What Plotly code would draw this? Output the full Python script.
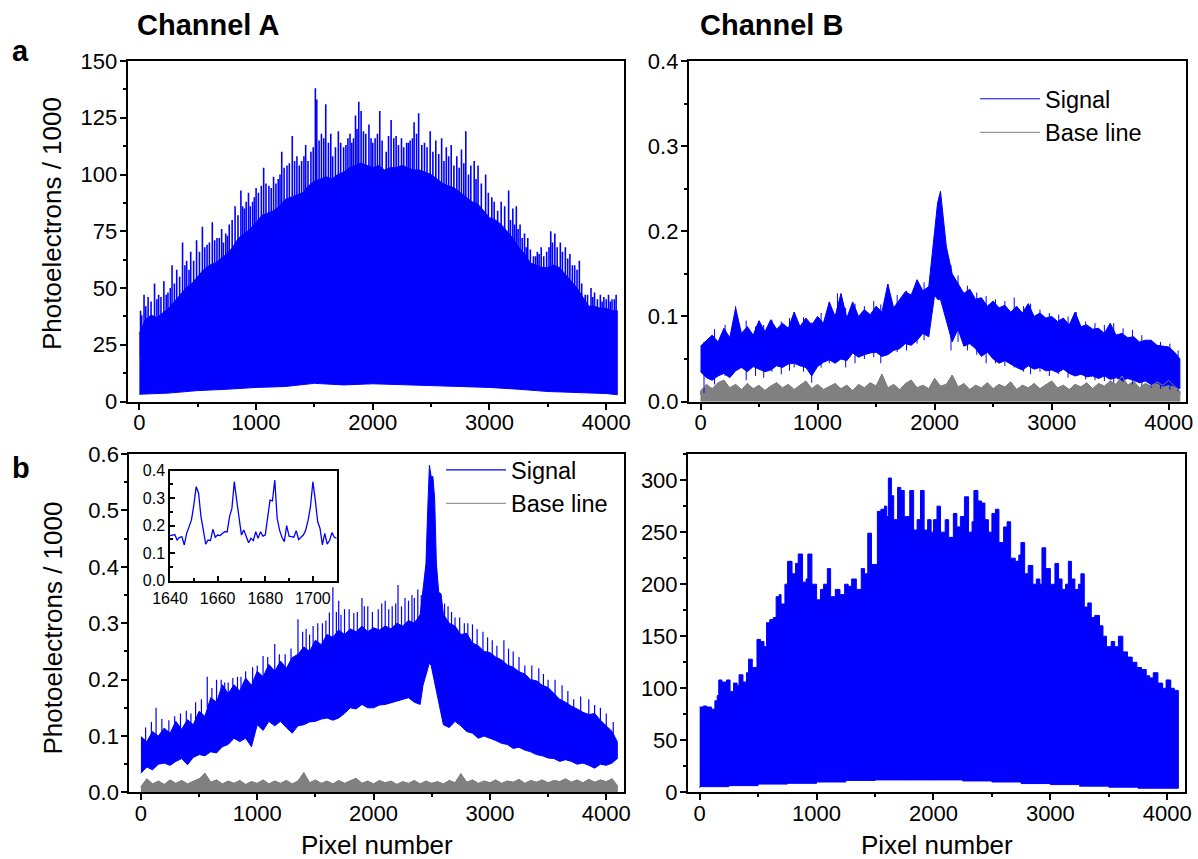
import plotly.graph_objects as go

FONT = "Liberation Sans, Arial, Helvetica, sans-serif"
BLUE = "#0000FF"
GRAY = "#808080"

# ---------------- Panel a, Channel A (photoelectrons/1000) ----------------
tl_x = list(range(0, 4051, 50)) + [4095]
tl_top = [30, 36, 38, 37, 39, 41, 44, 47, 50, 52, 55, 58, 60, 61, 63, 65, 68, 72, 74, 76,
          79, 82, 83, 84, 86, 89, 90, 91, 92, 95, 97, 98, 99, 98, 100, 101, 103, 104, 105, 104,
          103, 104, 102, 103, 103, 104, 103, 102, 102, 101, 100, 98, 96, 95, 94, 92, 90, 88, 87, 84,
          81, 80, 78, 75, 72, 68, 65, 61, 60, 59, 59, 60, 59, 56, 53, 50, 46, 42, 42, 41,
          41, 40, 40]
tl_lo_x = list(range(0, 4001, 250)) + [4095]
tl_lo = [3.2, 3.7, 4.8, 5.4, 6.2, 6.6, 8.0, 7.3, 7.8, 7.3, 7.0, 6.6, 6.2, 5.4, 4.4, 4.0, 3.5, 3.0]
tl_spike_x = [20, 40, 75, 130, 165, 210, 245, 280, 320, 370, 405, 440, 490, 540, 580, 625, 665,
              705, 740, 770, 820, 870, 900, 935, 970, 1000, 1065, 1110, 1150, 1190, 1220, 1265,
              1310, 1350, 1390, 1425, 1470, 1508, 1520, 1560, 1597, 1656, 1705, 1750, 1787, 1820,
              1852, 1880, 1900, 1940, 1967, 2020, 2060, 2115, 2157, 2200, 2246, 2290, 2320, 2354,
              2393, 2443, 2492, 2540, 2590, 2630, 2672, 2720, 2760, 2797, 2840, 2869, 2902, 2967,
              3040, 3100, 3164, 3200, 3230, 3262, 3300, 3328, 3377, 3410, 3443, 3490, 3525, 3560,
              3607, 3650, 3689, 3730, 3770, 3820, 3870, 3900, 3950, 3980, 4020, 4050, 4085]
tl_spike_top = [38, 47, 46, 52, 47, 53, 48, 60, 58, 70, 62, 66, 71, 77, 69, 79, 72,
                76, 74, 78, 86, 93, 85, 92, 88, 94, 103, 95, 99, 98, 110, 104,
                117, 108, 106, 113, 110, 138, 133, 118, 131, 108, 119, 112, 116, 114,
                126, 132, 128, 118, 122, 116, 128, 110, 124, 117, 116, 114, 115, 123,
                127, 114, 119, 115, 116, 112, 113, 108, 111, 119, 104, 106, 104, 100,
                88, 88, 93, 85, 86, 78, 74, 72, 64, 66, 68, 66, 75, 74,
                70, 68, 65, 60, 62, 47, 50, 48, 47, 46, 47, 45, 47]
tl_needle_x = [10, 55, 100, 150, 185, 230, 265, 300, 345, 390, 425, 465, 515, 560, 600, 645, 685,
               720, 755, 795, 845, 885, 915, 950, 985, 1020, 1045, 1085, 1130, 1170, 1205, 1240,
               1285, 1330, 1370, 1410, 1445, 1490, 1540, 1580, 1620, 1640, 1680, 1725, 1770, 1805,
               1835, 1865, 1920, 1985, 2000, 2040, 2080, 2135, 2180, 2220, 2265, 2305, 2340, 2375,
               2420, 2465, 2515, 2565, 2610, 2650, 2695, 2740, 2780, 2820, 2885, 2930, 2990, 3020,
               3070, 3130, 3180, 3215, 3245, 3280, 3315, 3350, 3395, 3425, 3465, 3510, 3540, 3580,
               3625, 3670, 3710, 3750, 3790, 3840, 3885, 3925, 3965, 4000, 4035, 4070]
tl_needle_top = [40, 42, 44, 45, 46, 47, 50, 52, 55, 60, 58, 62, 66, 68, 70, 71, 72,
                 70, 73, 80, 82, 86, 88, 86, 90, 92, 95, 96, 94, 96, 100, 103,
                 105, 106, 104, 108, 106, 112, 115, 116, 114, 118, 112, 114, 113, 118,
                 116, 120, 119, 116, 114, 118, 115, 117, 116, 113, 112, 114, 116, 118,
                 113, 112, 110, 109, 106, 108, 104, 103, 105, 100, 98, 96, 92, 90,
                 84, 86, 80, 78, 76, 72, 68, 67, 64, 65, 64, 68, 70, 68,
                 66, 63, 60, 58, 52, 47, 46, 45, 44, 45, 44, 45]
tl_spike_base = 20

# ---------------- Panel a, Channel B ----------------
tr_x = list(range(0, 2001, 50)) + [2025, 2050, 2075] + list(range(2100, 4051, 50)) + [4095]
tr_hi = [0.065, 0.072, 0.078, 0.070, 0.086, 0.075, 0.110, 0.080, 0.088, 0.078,
         0.095, 0.082, 0.096, 0.085, 0.092, 0.086, 0.105, 0.088, 0.098, 0.090,
         0.100, 0.092, 0.117, 0.100, 0.127, 0.098, 0.117, 0.100, 0.108, 0.102,
         0.112, 0.105, 0.138, 0.110, 0.120, 0.129, 0.125, 0.143, 0.130, 0.135,
         0.200, 0.233, 0.247, 0.215,
         0.182, 0.150, 0.139, 0.127, 0.132, 0.120, 0.122, 0.112, 0.118, 0.110,
         0.113, 0.105, 0.112, 0.104, 0.115, 0.100, 0.104, 0.098, 0.100, 0.094,
         0.098, 0.090, 0.105, 0.088, 0.090, 0.085, 0.086, 0.080, 0.092, 0.078,
         0.080, 0.075, 0.076, 0.070, 0.072, 0.072, 0.066, 0.065, 0.064, 0.058,
         0.050]
tr_lo = [0.035, 0.028, 0.025, 0.030, 0.033, 0.028, 0.036, 0.040, 0.035, 0.041,
         0.038, 0.035, 0.037, 0.042, 0.040, 0.044, 0.045, 0.042, 0.040, 0.030,
         0.041, 0.046, 0.049, 0.045, 0.050, 0.048, 0.057, 0.052, 0.055, 0.057,
         0.058, 0.053, 0.055, 0.060, 0.062, 0.068, 0.066, 0.072, 0.080, 0.076,
         0.125, 0.120, 0.120, 0.110,
         0.096, 0.070, 0.085, 0.065, 0.068, 0.062, 0.053, 0.058, 0.050, 0.045,
         0.048, 0.044, 0.040, 0.037, 0.042, 0.038, 0.040, 0.036, 0.037, 0.034,
         0.038, 0.033, 0.030, 0.032, 0.029, 0.030, 0.027, 0.030, 0.026, 0.028,
         0.025, 0.027, 0.025, 0.022, 0.024, 0.020, 0.022, 0.018, 0.020, 0.018,
         0.015]
tr_spike_x = [30, 120, 210, 300, 390, 470, 540, 610, 690, 760, 800, 880, 950, 1030, 1100, 1170,
              1240, 1320, 1400, 1480, 1540, 1600, 1680, 1760, 1850, 1910, 2140, 2200, 2280, 2360,
              2440, 2520, 2600, 2680, 2760, 2820, 2900, 2980, 3060, 3140, 3210, 3290, 3370, 3450,
              3530, 3610, 3690, 3770, 3850, 3930, 4010, 4080]
tr_spike_top = [0.070, 0.085, 0.090, 0.112, 0.095, 0.088, 0.090, 0.096, 0.094, 0.098, 0.105, 0.099,
                0.093, 0.104, 0.117, 0.127, 0.110, 0.115, 0.112, 0.118, 0.114, 0.138, 0.125, 0.130,
                0.143, 0.140, 0.160, 0.148, 0.136, 0.128, 0.124, 0.120, 0.118, 0.122, 0.112, 0.115,
                0.108, 0.104, 0.102, 0.100, 0.105, 0.094, 0.092, 0.090, 0.092, 0.086, 0.084, 0.078,
                0.072, 0.070, 0.068, 0.060]
tr_spike_base = [0.010, 0.020, 0.030, 0.040, 0.025, 0.030, 0.028, 0.035, 0.032, 0.036, 0.040, 0.035,
                 0.022, 0.040, 0.045, 0.048, 0.040, 0.045, 0.050, 0.052, 0.045, 0.055, 0.058, 0.060,
                 0.068, 0.072, 0.060, 0.070, 0.060, 0.055, 0.045, 0.045, 0.042, 0.040, 0.035, 0.032,
                 0.035, 0.030, 0.032, 0.028, 0.030, 0.026, 0.025, 0.024, 0.022, 0.023, 0.020, 0.018,
                 0.016, 0.015, 0.014, 0.012]
tr_base_x = list(range(0, 4051, 50)) + [4095]
tr_base_top = [0.012, 0.020, 0.015, 0.022, 0.025, 0.016, 0.020, 0.014, 0.021, 0.015,
               0.019, 0.013, 0.018, 0.022, 0.016, 0.020, 0.014, 0.019, 0.024, 0.015,
               0.020, 0.014, 0.018, 0.021, 0.015, 0.019, 0.013, 0.020, 0.016, 0.022,
               0.018, 0.032, 0.016, 0.020, 0.014, 0.021, 0.025, 0.016, 0.019, 0.015,
               0.027, 0.018, 0.020, 0.031, 0.017, 0.021, 0.014, 0.019, 0.016, 0.022,
               0.015, 0.020, 0.017, 0.023, 0.014, 0.019, 0.016, 0.021, 0.015, 0.020,
               0.024, 0.016, 0.019, 0.014, 0.020, 0.017, 0.022, 0.015, 0.021, 0.018,
               0.024, 0.020, 0.030, 0.019, 0.024, 0.016, 0.021, 0.018, 0.023, 0.019,
               0.025, 0.018, 0.012]
tr_base_body = 0.008

# ---------------- Panel b, Channel A ----------------
bl_x = (list(range(0, 2401, 50)) + [2425, 2450, 2465, 2480, 2495, 2510, 2525, 2540, 2560, 2580]
        + list(range(2600, 4051, 50)) + [4095])
bl_hi = [0.099, 0.090, 0.108, 0.100, 0.114, 0.105, 0.126, 0.112, 0.129, 0.120,
         0.144, 0.135, 0.168, 0.160, 0.191, 0.175, 0.191, 0.180, 0.203, 0.190,
         0.215, 0.205, 0.227, 0.215, 0.233, 0.220, 0.239, 0.245, 0.258, 0.250,
         0.270, 0.262, 0.280, 0.275, 0.288, 0.280, 0.290, 0.285, 0.295, 0.285,
         0.292, 0.288, 0.295, 0.290, 0.300, 0.295, 0.305, 0.300, 0.315,
         0.360, 0.405, 0.500, 0.580, 0.560, 0.560, 0.520, 0.405, 0.355, 0.352,
         0.316, 0.300, 0.295, 0.280, 0.282, 0.265, 0.260, 0.250, 0.248, 0.240,
         0.235, 0.226, 0.222, 0.214, 0.210, 0.200, 0.198, 0.190, 0.186, 0.175,
         0.165, 0.160, 0.153, 0.148, 0.142, 0.138, 0.140, 0.128, 0.118, 0.108,
         0.090]
bl_lo = [0.034, 0.045, 0.040, 0.050, 0.052, 0.048, 0.055, 0.060, 0.049, 0.062,
         0.067, 0.065, 0.072, 0.070, 0.081, 0.085, 0.096, 0.090, 0.096, 0.081,
         0.120, 0.110, 0.126, 0.118, 0.126, 0.115, 0.105, 0.118, 0.120, 0.125,
         0.126, 0.130, 0.132, 0.128, 0.132, 0.140, 0.150, 0.148, 0.156, 0.150,
         0.150, 0.155, 0.156, 0.160, 0.162, 0.165, 0.168, 0.160, 0.156,
         0.190, 0.209, 0.220, 0.230, 0.225, 0.215, 0.200, 0.180, 0.160, 0.140,
         0.120, 0.115, 0.126, 0.118, 0.108, 0.105, 0.096, 0.100, 0.096, 0.092,
         0.087, 0.085, 0.078, 0.080, 0.075, 0.072, 0.067, 0.065, 0.061, 0.060,
         0.055, 0.058, 0.055, 0.050, 0.052, 0.048, 0.043, 0.050, 0.048, 0.052,
         0.060]
bl_spike_x = [130, 290, 470, 570, 650, 720, 790, 860, 960, 1050, 1150, 1240, 1350, 1420, 1480,
              1560, 1620, 1650, 1700, 1750, 1830, 1900, 1950, 2040, 2100, 2160, 2210, 2270, 2330,
              2380, 2640, 2700, 2780, 2850, 2940, 3020, 3120, 3200, 3300, 3420, 3500, 3620, 3720,
              3850, 3950,
              40, 90, 180, 240, 340, 390, 430, 520, 610, 690, 750, 830, 900, 1000, 1090, 1190,
              1290, 1390, 1450, 1520, 1590, 1680, 1720, 1790, 1860, 1920, 1990, 2070, 2130, 2190,
              2240, 2300, 2350, 2410, 2610, 2670, 2740, 2810, 2890, 2980, 3060, 3160, 3250, 3360,
              3460, 3560, 3670, 3780, 3900, 4000, 4060]
bl_spike_top = [0.150, 0.135, 0.160, 0.205, 0.200, 0.195, 0.203, 0.205, 0.222, 0.242, 0.263, 0.245,
                0.307, 0.290, 0.295, 0.300, 0.319, 0.364, 0.340, 0.325, 0.318, 0.345, 0.330, 0.325,
                0.340, 0.330, 0.368, 0.345, 0.350, 0.360, 0.330, 0.310, 0.300, 0.298, 0.285, 0.270,
                0.270, 0.250, 0.225, 0.220, 0.200, 0.190, 0.165, 0.165, 0.150,
                0.115, 0.125, 0.130, 0.128, 0.140, 0.145, 0.140, 0.165, 0.185, 0.200, 0.195, 0.205,
                0.215, 0.225, 0.240, 0.245, 0.255, 0.285, 0.280, 0.300, 0.305, 0.320, 0.315, 0.325,
                0.320, 0.330, 0.320, 0.335, 0.325, 0.335, 0.330, 0.340, 0.345, 0.350, 0.335, 0.320,
                0.310, 0.300, 0.290, 0.275, 0.260, 0.255, 0.240, 0.225, 0.210, 0.200, 0.180, 0.170,
                0.155, 0.140, 0.125]
bl_spike_base = [0.10, 0.11, 0.12, 0.15, 0.16, 0.17, 0.17, 0.18, 0.19, 0.20, 0.21, 0.22, 0.23, 0.24,
                 0.25, 0.26, 0.27, 0.27, 0.27, 0.27, 0.28, 0.28, 0.28, 0.28, 0.28, 0.28, 0.28, 0.29,
                 0.29, 0.30, 0.28, 0.27, 0.26, 0.25, 0.24, 0.23, 0.21, 0.20, 0.19, 0.18, 0.17, 0.15,
                 0.14, 0.13, 0.12,
                 0.07, 0.08, 0.09, 0.09, 0.10, 0.10, 0.10, 0.12, 0.14, 0.15, 0.15, 0.16, 0.17, 0.18,
                 0.20, 0.21, 0.22, 0.24, 0.24, 0.25, 0.26, 0.27, 0.27, 0.27, 0.27, 0.27, 0.27, 0.28,
                 0.28, 0.28, 0.28, 0.29, 0.29, 0.29, 0.28, 0.27, 0.26, 0.25, 0.24, 0.23, 0.22, 0.21,
                 0.20, 0.19, 0.18, 0.17, 0.15, 0.14, 0.13, 0.11, 0.10]
bl_base_x = list(range(0, 4051, 50)) + [4095]
bl_base_top = [0.010, 0.024, 0.015, 0.020, 0.014, 0.022, 0.016, 0.021, 0.015, 0.019,
               0.024, 0.034, 0.018, 0.022, 0.015, 0.020, 0.016, 0.021, 0.014, 0.019,
               0.016, 0.022, 0.015, 0.020, 0.016, 0.021, 0.015, 0.020, 0.035, 0.017,
               0.022, 0.016, 0.020, 0.015, 0.021, 0.016, 0.020, 0.025, 0.016, 0.020,
               0.015, 0.021, 0.017, 0.020, 0.014, 0.019, 0.016, 0.021, 0.015, 0.020,
               0.016, 0.019, 0.015, 0.021, 0.017, 0.033, 0.018, 0.022, 0.016, 0.020,
               0.017, 0.022, 0.016, 0.020, 0.018, 0.023, 0.016, 0.021, 0.018, 0.022,
               0.017, 0.021, 0.019, 0.024, 0.018, 0.022, 0.017, 0.023, 0.018, 0.022,
               0.019, 0.024, 0.012]
bl_base_body = 0.009

# ---------------- Panel b, Channel B ----------------
br_x = [0, 30, 60, 100, 130, 150, 163, 190, 230, 260, 290, 320, 337, 370, 400, 418, 450, 490,
        520, 550, 572, 600, 630, 654, 680, 696, 729, 752, 790, 820, 843, 880, 910, 925, 960,
        1000, 1033, 1060, 1092, 1120, 1160, 1200, 1240, 1270, 1300, 1340, 1382, 1410, 1438,
        1470, 1520, 1550, 1580, 1600, 1614, 1640, 1660, 1693, 1720, 1750, 1770, 1797, 1830,
        1860, 1889, 1920, 1950, 1980, 2000, 2030, 2060, 2100, 2130, 2170, 2200, 2230, 2265,
        2300, 2330, 2346, 2380, 2410, 2440, 2470, 2500, 2530, 2560, 2600, 2630, 2660, 2700,
        2730, 2748, 2780, 2810, 2850, 2880, 2910, 2928, 2960, 3000, 3039, 3070, 3100, 3130,
        3154, 3180, 3210, 3240, 3261, 3290, 3320, 3350, 3380, 3420, 3450, 3480, 3520, 3550,
        3582, 3620, 3660, 3700, 3740, 3780, 3820, 3850, 3880, 3920, 3960, 3990, 4030, 4060, 4095]
br_top = [82, 83, 82, 80, 88, 93, 108, 106, 108, 97, 105, 103, 113, 106, 115, 128, 120, 147,
          145, 140, 163, 166, 168, 188, 190, 181, 200, 222, 210, 220, 229, 202, 205, 229, 200,
          185, 195, 200, 215, 188, 195, 190, 200, 198, 205, 195, 215, 210, 249,
          219, 270, 272, 275, 265, 302, 285, 262, 293, 290, 265, 265, 290, 252,
          262, 290, 252, 262, 250, 262, 275, 250, 262, 245, 268, 255, 265, 284,
          250, 260, 290, 280, 278, 262, 250, 268, 272, 240, 255, 260, 225, 222,
          228, 240, 210, 218, 200, 205, 200, 235, 215, 200, 220, 205, 195, 200,
          222, 205, 195, 200, 210, 178, 182, 168, 170, 160, 150, 140, 145, 140,
          150, 135, 130, 125, 120, 118, 112, 110, 115, 105, 100, 108, 100, 98, 97]
br_lo_x = list(range(0, 4001, 250)) + [4095]
br_lo = [4.5, 5.5, 6.5, 8.0, 8.7, 10.0, 11.5, 12.0, 12.0, 12.0, 11.0, 10.0, 8.5, 7.5, 6.0, 5.0, 4.0, 4.0]

# ---------------- Inset (panel b, Channel A, zoom) ----------------
inset_x = list(range(1640, 1711))
inset_y = [0.164, 0.166, 0.168, 0.148, 0.158, 0.160, 0.130, 0.172, 0.200, 0.220,
           0.275, 0.342, 0.318, 0.233, 0.184, 0.133, 0.148, 0.146, 0.187, 0.158,
           0.166, 0.164, 0.172, 0.178, 0.178, 0.233, 0.263, 0.360, 0.293, 0.233,
           0.166, 0.184, 0.160, 0.138, 0.154, 0.146, 0.178, 0.154, 0.178, 0.162,
           0.166, 0.227, 0.293, 0.290, 0.366, 0.227, 0.184, 0.158, 0.142, 0.200,
           0.162, 0.160, 0.158, 0.182, 0.150, 0.158, 0.166, 0.184, 0.220, 0.270,
           0.360, 0.293, 0.215, 0.190, 0.130, 0.172, 0.133, 0.146, 0.175, 0.158,
           0.154]

for a_, b_ in [(tl_x, tl_top), (tl_lo_x, tl_lo), (tl_spike_x, tl_spike_top), (tl_needle_x, tl_needle_top),
               (tr_x, tr_hi), (tr_x, tr_lo), (tr_spike_x, tr_spike_top), (tr_spike_x, tr_spike_base),
               (tr_base_x, tr_base_top), (bl_x, bl_hi), (bl_x, bl_lo), (bl_spike_x, bl_spike_top),
               (bl_spike_x, bl_spike_base), (bl_base_x, bl_base_top), (br_x, br_top),
               (br_lo_x, br_lo), (inset_x, inset_y)]:
    assert len(a_) == len(b_), (len(a_), len(b_))


def polygon(x_top, y_top, x_bot, y_bot):
    return list(x_top) + list(x_bot)[::-1], list(y_top) + list(y_bot)[::-1]


def segments(xs, bases, tops):
    X, Y = [], []
    if not isinstance(bases, list):
        bases = [bases] * len(xs)
    for x, b, t in zip(xs, bases, tops):
        X += [x, x, None]
        Y += [b, t, None]
    return X, Y


fig = go.Figure()

# TL: solid body plus thin needles
px, py = polygon(tl_x, tl_top, tl_lo_x, tl_lo)
fig.add_trace(go.Scatter(x=px, y=py, fill="toself", fillcolor=BLUE, mode="lines",
                         line=dict(color=BLUE, width=1), xaxis="x", yaxis="y", showlegend=False))
sx, sy = segments(tl_spike_x + tl_needle_x, tl_spike_base, tl_spike_top + tl_needle_top)
fig.add_trace(go.Scatter(x=sx, y=sy, mode="lines", line=dict(color=BLUE, width=1.6),
                         xaxis="x", yaxis="y", showlegend=False))

# TR
px, py = polygon(tr_base_x, tr_base_top, [tr_base_x[0], tr_base_x[-1]], [0, 0])
fig.add_trace(go.Scatter(x=px, y=py, fill="toself", fillcolor=GRAY, mode="lines",
                         line=dict(color=GRAY, width=1), xaxis="x2", yaxis="y2", showlegend=False))
gx, gy = segments(tr_base_x, tr_base_body, tr_base_top)
fig.add_trace(go.Scatter(x=gx, y=gy, mode="lines", line=dict(color=GRAY, width=1.2),
                         xaxis="x2", yaxis="y2", showlegend=False))
px, py = polygon(tr_x, tr_hi, tr_x, tr_lo)
fig.add_trace(go.Scatter(x=px, y=py, fill="toself", fillcolor=BLUE, mode="lines",
                         line=dict(color=BLUE, width=1), xaxis="x2", yaxis="y2", showlegend=False))
sx, sy = segments(tr_spike_x, tr_spike_base, tr_spike_top)
fig.add_trace(go.Scatter(x=sx, y=sy, mode="lines", line=dict(color=BLUE, width=1),
                         xaxis="x2", yaxis="y2", name="Signal", legend="legend",
                         legendgroup="s1", showlegend=True))
fig.add_trace(go.Scatter(x=tr_base_x, y=tr_base_top, mode="lines", line=dict(color=GRAY, width=1),
                         xaxis="x2", yaxis="y2", name="Base line", legend="legend",
                         legendgroup="b1", showlegend=True))

# BL
px, py = polygon(bl_base_x, bl_base_top, [bl_base_x[0], bl_base_x[-1]], [0, 0])
fig.add_trace(go.Scatter(x=px, y=py, fill="toself", fillcolor=GRAY, mode="lines",
                         line=dict(color=GRAY, width=1), xaxis="x3", yaxis="y3", showlegend=False))
gx, gy = segments(bl_base_x, bl_base_body, bl_base_top)
fig.add_trace(go.Scatter(x=gx, y=gy, mode="lines", line=dict(color=GRAY, width=1.2),
                         xaxis="x3", yaxis="y3", showlegend=False))
px, py = polygon(bl_x, bl_hi, bl_x, bl_lo)
fig.add_trace(go.Scatter(x=px, y=py, fill="toself", fillcolor=BLUE, mode="lines",
                         line=dict(color=BLUE, width=1), xaxis="x3", yaxis="y3", showlegend=False))
sx, sy = segments(bl_spike_x, bl_spike_base, bl_spike_top)
fig.add_trace(go.Scatter(x=sx, y=sy, mode="lines", line=dict(color=BLUE, width=1.2),
                         xaxis="x3", yaxis="y3", name="Signal", legend="legend2",
                         legendgroup="s2", showlegend=True))
fig.add_trace(go.Scatter(x=bl_base_x, y=bl_base_top, mode="lines", line=dict(color=GRAY, width=1),
                         xaxis="x3", yaxis="y3", name="Base line", legend="legend2",
                         legendgroup="b2", showlegend=True))

# BR
px, py = polygon(br_x, br_top, br_lo_x, br_lo)
fig.add_trace(go.Scatter(x=px, y=py, fill="toself", fillcolor=BLUE, mode="lines",
                         line=dict(color=BLUE, width=1, shape="hv"), xaxis="x4", yaxis="y4",
                         showlegend=False))

# Inset
fig.add_trace(go.Scatter(x=inset_x, y=inset_y, mode="lines", line=dict(color=BLUE, width=1.3),
                         xaxis="x5", yaxis="y5", showlegend=False))

W, H = 1198, 859


def px2x(p):
    return p / W


def px2y(p):
    return 1 - p / H


def ax(domain, rng, dtick, mdtick, anchor, fmt=None, size=22, ticks="outside", tlen=6, mlen=3,
       lw=2, standoff=0):
    d = dict(domain=domain, range=rng, dtick=dtick, tick0=0, anchor=anchor, automargin=False,
             showline=True, linecolor="black", linewidth=lw, mirror=True,
             ticks=ticks, ticklen=tlen, tickwidth=lw, tickcolor="black",
             showgrid=False, zeroline=False, ticklabelstandoff=standoff,
             tickfont=dict(family=FONT, size=size, color="black"),
             minor=dict(ticks=ticks, ticklen=mlen, tickwidth=lw, tickcolor="black",
                        dtick=mdtick, tick0=0, showgrid=False))
    if fmt:
        d["tickformat"] = fmt
    return d


def overlay(base, rng, dtick, mdtick, anchor):
    return dict(overlaying=base, anchor=anchor, range=rng, dtick=dtick, tick0=0, automargin=False,
                showline=True, linecolor="black", linewidth=2, mirror="allticks",
                ticks="inside", ticklen=6, tickwidth=2, tickcolor="black",
                showticklabels=False, showgrid=False, zeroline=False,
                minor=dict(ticks="inside", ticklen=3, tickwidth=2, tickcolor="black",
                           dtick=mdtick, tick0=0, showgrid=False))


XR = [-100, 4150]
tl_xd = [px2x(127.7), px2x(623.7)]
tr_xd = [px2x(688.8), px2x(1186.3)]
bl_xd = [px2x(129.3), px2x(623.7)]
br_xd = [px2x(688.0), px2x(1184.8)]
top_yd = [px2y(401.5), px2y(61)]
bot_yd = [px2y(792.4), px2y(454.1)]

layout = dict(
    width=W, height=H, margin=dict(l=0, r=0, t=0, b=0, autoexpand=False),
    paper_bgcolor="white", plot_bgcolor="white",
    font=dict(family=FONT, color="black"),
    xaxis=ax(tl_xd, XR, 1000, 500, "y", standoff=-6),
    yaxis=ax(top_yd, [0, 150], 25, 12.5, "x", standoff=-2),
    xaxis2=ax(tr_xd, XR, 1000, 500, "y2", standoff=-6),
    yaxis2=ax(top_yd, [0, 0.4], 0.1, 0.05, "x2", fmt=".1f", standoff=-2),
    xaxis3=ax(bl_xd, XR, 1000, 500, "y3", standoff=-6),
    yaxis3=ax(bot_yd, [0, 0.6], 0.1, 0.05, "x3", fmt=".1f", standoff=-2),
    xaxis4=ax(br_xd, XR, 1000, 500, "y4", standoff=-6),
    yaxis4=ax(bot_yd, [0, 325], 50, 25, "x4", standoff=-2),
    xaxis5=ax([px2x(170), px2x(336.7)], [1640, 1710], 20, 10, "y5", size=16,
              ticks="inside", tlen=5, mlen=3, lw=1.5, standoff=2),
    yaxis5=ax([px2y(580.7), px2y(470.7)], [0, 0.4], 0.1, 0.05, "x5", fmt=".1f", size=16,
              ticks="inside", tlen=5, mlen=3, lw=1.5),
    xaxis6=overlay("x", XR, 1000, 500, "y"),
    yaxis6=overlay("y", [0, 150], 25, 12.5, "x"),
    xaxis7=overlay("x2", XR, 1000, 500, "y2"),
    yaxis7=overlay("y2", [0, 0.4], 0.1, 0.05, "x2"),
    xaxis8=overlay("x3", XR, 1000, 500, "y3"),
    yaxis8=overlay("y3", [0, 0.6], 0.1, 0.05, "x3"),
    xaxis9=overlay("x4", XR, 1000, 500, "y4"),
    yaxis9=overlay("y4", [0, 325], 50, 25, "x4"),
    legend=dict(x=px2x(975), y=px2y(77), xanchor="left", yanchor="top", itemwidth=60,
                bgcolor="rgba(0,0,0,0)", borderwidth=0, tracegroupgap=0,
                font=dict(family=FONT, size=23.5, color="black")),
    legend2=dict(x=px2x(441), y=px2y(448), xanchor="left", yanchor="top", itemwidth=60,
                 bgcolor="rgba(0,0,0,0)", borderwidth=0, tracegroupgap=0,
                 font=dict(family=FONT, size=23.5, color="black")),
)
fig.update_layout(**layout)

ann = []
ann.append(dict(text="<b>Channel A</b>", x=px2x(208), y=px2y(25.5), font=dict(size=29)))
ann.append(dict(text="<b>Channel B</b>", x=px2x(771), y=px2y(25.5), font=dict(size=29)))
ann.append(dict(text="<b>a</b>", x=px2x(20), y=px2y(51), font=dict(size=29)))
ann.append(dict(text="<b>b</b>", x=px2x(20.5), y=px2y(468), font=dict(size=29)))
ann.append(dict(text="Photoelectrons / 1000", x=px2x(52), y=px2y(224), textangle=-90,
                font=dict(size=26)))
ann.append(dict(text="Photoelectrons / 1000", x=px2x(52.5), y=px2y(628), textangle=-90,
                font=dict(size=26)))
ann.append(dict(text="Pixel number", x=px2x(377), y=px2y(845), font=dict(size=26)))
ann.append(dict(text="Pixel number", x=px2x(936.5), y=px2y(845), font=dict(size=26)))
for a in ann:
    a.update(xref="paper", yref="paper", xanchor="center", yanchor="middle", showarrow=False)
    a["font"].update(family=FONT, color="black")
fig.update_layout(annotations=ann)

fig.write_html("out.html")
